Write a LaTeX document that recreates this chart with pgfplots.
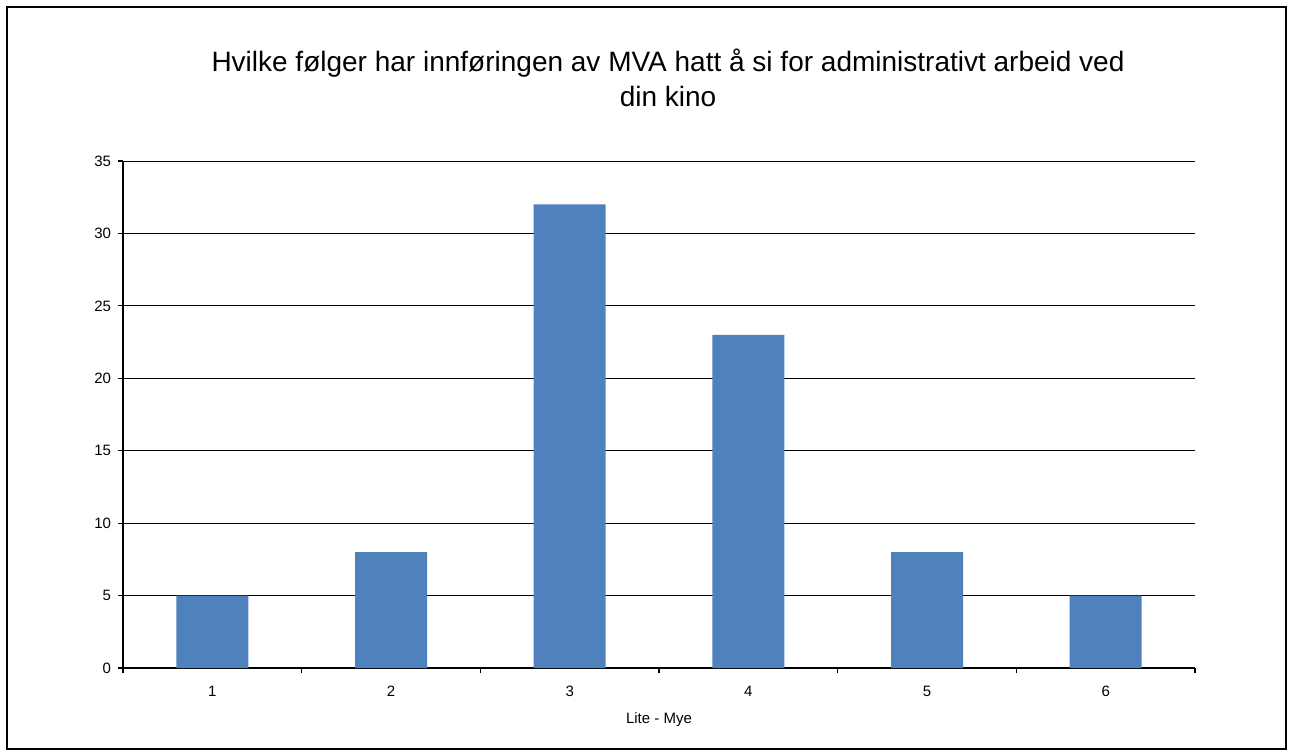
\documentclass[border=0pt]{standalone}
\usepackage{pgfplots}
\pgfplotsset{compat=1.18}
\usepackage{fontspec}
\setmainfont{Liberation Sans}
\definecolor{barblue}{HTML}{4F81BD}
\begin{document}
\begin{tikzpicture}
\path[use as bounding box] (0pt,0pt) rectangle (644.5pt,377.5pt);
\draw[black, line width=0.8pt] (3.5pt,3pt) rectangle (643pt,374pt);
\node[align=center, font=\fontsize{14}{17.5}\selectfont, anchor=north] at (334pt,356.5pt) {Hvilke følger har innføringen av MVA hatt å si for administrativt arbeid ved\\din kino};
\begin{axis}[
  at={(61.5pt,43.5pt)}, anchor=south west,
  scale only axis, width=536pt, height=253.5pt,
  xmin=0.5, xmax=6.5, ymin=0, ymax=35,
  ytick={0,5,...,35},
  xtick={1,2,3,4,5,6},
  minor xtick={0.5,1.5,...,6.5},
  major x tick style={draw=none},
  minor tick length=2.5pt,
  major tick length=2.5pt,
  tick align=outside,
  axis x line*=bottom, axis y line*=left,
  axis line style={black, line width=0.6pt},
  tick style={black, line width=0.6pt},
  minor tick style={black, line width=0.6pt},
  ymajorgrids, grid style={black, line width=0.5pt},
  ticklabel style={font=\fontsize{7.5}{9}\selectfont},
  xticklabel style={yshift=-3pt},
  /pgf/number format/assume math mode=true,
  xlabel={Lite - Mye},
  xlabel style={font=\fontsize{7.5}{9}\selectfont, yshift=-1pt},
  ybar, bar width=36pt,
]
\addplot[fill=barblue, draw=none] coordinates {(1,5) (2,8) (3,32) (4,23) (5,8) (6,5)};
\end{axis}
\end{tikzpicture}
\end{document}
